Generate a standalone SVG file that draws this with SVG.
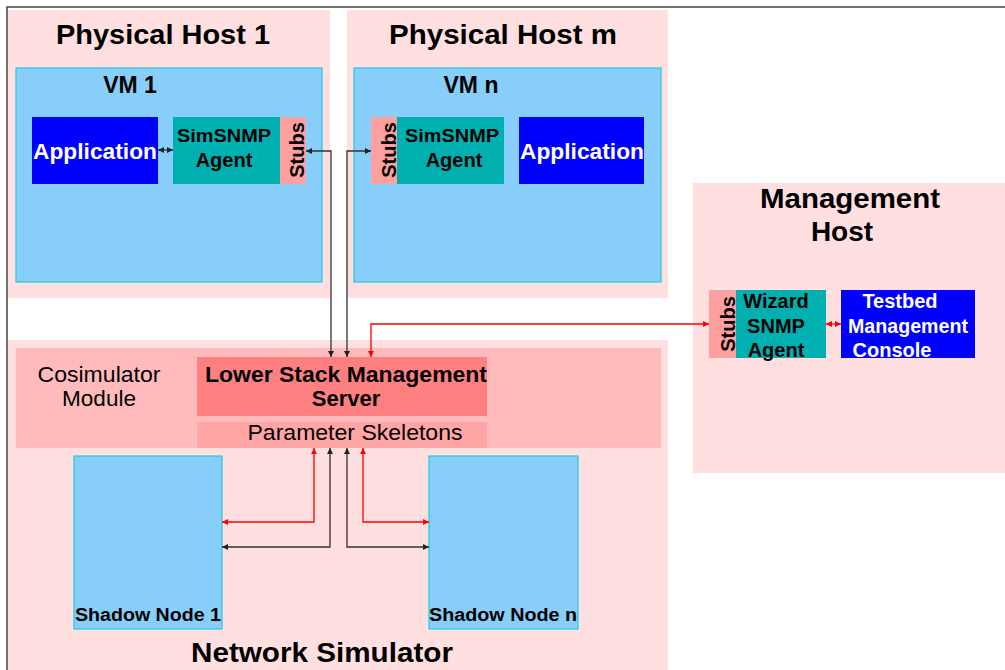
<svg xmlns="http://www.w3.org/2000/svg" width="1005" height="670" viewBox="0 0 1005 670">
<defs>
<marker id="ak" viewBox="0 0 10 10" refX="10" refY="5" markerWidth="8" markerHeight="6" markerUnits="userSpaceOnUse" orient="auto-start-reverse"><path d="M0,0 L10,5 L0,10 z" fill="#222"/></marker>
<marker id="ar" viewBox="0 0 10 10" refX="10" refY="5" markerWidth="8" markerHeight="6" markerUnits="userSpaceOnUse" orient="auto-start-reverse"><path d="M0,0 L10,5 L0,10 z" fill="#ff0000"/></marker>
<style>
.host{fill:#ffdfdf}
.vm{fill:#87cefa;stroke:#1ecde0;stroke-width:1.2}
.app{fill:#0000ff}
.agent{fill:#00b0b0}
.stub{fill:#ffa0a0}
.t{font-family:"Liberation Sans",Arial,sans-serif;fill:#000;text-anchor:middle}
.b{font-weight:bold}
.w{fill:#fff}
.lk{fill:none;stroke:#333;stroke-width:1.3}
.lr{fill:none;stroke:#ff0000;stroke-width:1.3}
</style>
</defs>
<rect width="1005" height="670" fill="#fff"/>
<path d="M7,670 V7 H1005" fill="none" stroke="#444" stroke-width="1.5"/>

<g id="host1">
<rect class="host" x="8" y="10" width="322" height="288"/>
<text class="t b" x="163" y="44" font-size="28" textLength="214" lengthAdjust="spacingAndGlyphs">Physical Host 1</text>
</g>
<g id="vm1">
<rect class="vm" x="16" y="68" width="306" height="214"/>
<text class="t b" x="130" y="93" font-size="23">VM 1</text>
</g>
<g id="app1">
<rect class="app" x="32" y="117" width="126" height="67"/>
<text class="t b w" x="95" y="159" font-size="22" textLength="124" lengthAdjust="spacingAndGlyphs">Application</text>
</g>
<g id="agent1">
<rect class="agent" x="173" y="117" width="107" height="67"/>
<text class="t b" x="224" y="142" font-size="19" textLength="94" lengthAdjust="spacingAndGlyphs">SimSNMP</text>
<text class="t b" x="224" y="167" font-size="20">Agent</text>
</g>
<g id="stubs1">
<rect class="stub" x="280" y="117" width="26" height="67"/>
<text class="t b" transform="translate(304,150) rotate(-90)" font-size="20">Stubs</text>
</g>

<g id="hostm">
<rect class="host" x="347" y="10" width="321" height="288"/>
<text class="t b" x="503" y="44" font-size="28" textLength="228" lengthAdjust="spacingAndGlyphs">Physical Host m</text>
</g>
<g id="vmn">
<rect class="vm" x="354" y="68" width="307" height="214"/>
<text class="t b" x="471" y="93" font-size="23">VM n</text>
</g>
<g id="stubsn">
<rect class="stub" x="371" y="117" width="26" height="67"/>
<text class="t b" transform="translate(396,150) rotate(-90)" font-size="20">Stubs</text>
</g>
<g id="agentn">
<rect class="agent" x="397" y="117" width="107" height="67"/>
<text class="t b" x="452" y="142" font-size="19" textLength="94" lengthAdjust="spacingAndGlyphs">SimSNMP</text>
<text class="t b" x="454" y="167" font-size="20">Agent</text>
</g>
<g id="appn">
<rect class="app" x="519" y="117" width="125" height="67"/>
<text class="t b w" x="582" y="159" font-size="22" textLength="124" lengthAdjust="spacingAndGlyphs">Application</text>
</g>

<g id="mgmthost">
<rect class="host" x="693" y="183" width="312" height="290"/>
<text class="t b" x="850" y="208" font-size="28" textLength="180" lengthAdjust="spacingAndGlyphs">Management</text>
<text class="t b" x="842" y="241" font-size="28">Host</text>
</g>
<g id="wstubs">
<rect class="stub" x="709" y="290" width="27" height="68"/>
<text class="t b" transform="translate(735,324) rotate(-90)" font-size="20">Stubs</text>
</g>
<g id="wizard">
<rect class="agent" x="736" y="290" width="90" height="68"/>
<text class="t b" x="776" y="308" font-size="20">Wizard</text>
<text class="t b" x="776" y="333" font-size="20">SNMP</text>
<text class="t b" x="776" y="357" font-size="20">Agent</text>
</g>
<g id="console">
<rect class="app" x="841" y="290" width="134" height="68"/>
<text class="t b w" x="900" y="308" font-size="20">Testbed</text>
<text class="t b w" x="908" y="333" font-size="20" textLength="120" lengthAdjust="spacingAndGlyphs">Management</text>
<text class="t b w" x="892" y="357" font-size="20">Console</text>
</g>

<g id="netsim">
<rect class="host" x="8" y="340" width="660" height="330"/>
<text class="t b" x="322" y="662" font-size="28" textLength="262" lengthAdjust="spacingAndGlyphs">Network Simulator</text>
</g>
<g id="cosim">
<rect x="16" y="348" width="645" height="100" fill="#ffbbbb"/>
<text class="t" x="99" y="382" font-size="22" textLength="123" lengthAdjust="spacingAndGlyphs">Cosimulator</text>
<text class="t" x="99" y="406" font-size="22" textLength="74" lengthAdjust="spacingAndGlyphs">Module</text>
</g>
<g id="lsms">
<rect x="197" y="357" width="290" height="59" fill="#ff8080"/>
<text class="t b" x="346" y="382" font-size="22" textLength="282" lengthAdjust="spacingAndGlyphs">Lower Stack Management</text>
<text class="t b" x="346" y="406" font-size="22">Server</text>
</g>
<g id="params">
<rect x="197" y="422" width="290" height="26" fill="#ffa5a5"/>
<text class="t" x="355" y="440" font-size="22" textLength="215" lengthAdjust="spacingAndGlyphs">Parameter Skeletons</text>
</g>
<g id="shadow1">
<rect class="vm" x="74" y="456" width="148" height="173"/>
<text class="t b" x="148" y="621" font-size="18" textLength="146" lengthAdjust="spacingAndGlyphs">Shadow Node 1</text>
</g>
<g id="shadown">
<rect class="vm" x="429" y="456" width="149" height="173"/>
<text class="t b" x="503" y="621" font-size="18" textLength="148" lengthAdjust="spacingAndGlyphs">Shadow Node n</text>
</g>

<g id="connectors">
<path class="lk" d="M158,150 H173" marker-start="url(#ak)" marker-end="url(#ak)"/>
<path class="lk" d="M306,151 H331 V357" marker-start="url(#ak)" marker-end="url(#ak)"/>
<path class="lk" d="M347,357 V151 H371" marker-start="url(#ak)" marker-end="url(#ak)"/>
<path class="lr" d="M709,324 H371 V357" marker-start="url(#ar)" marker-end="url(#ar)"/>
<path class="lr" d="M826,324 H841" marker-start="url(#ar)" marker-end="url(#ar)"/>
<path class="lr" d="M314,448 V522 H222" marker-start="url(#ar)" marker-end="url(#ar)"/>
<path class="lk" d="M330,448 V547 H222" marker-start="url(#ak)" marker-end="url(#ak)"/>
<path class="lk" d="M347,448 V547 H429" marker-start="url(#ak)" marker-end="url(#ak)"/>
<path class="lr" d="M363,448 V522 H429" marker-start="url(#ar)" marker-end="url(#ar)"/>
</g>
</svg>
